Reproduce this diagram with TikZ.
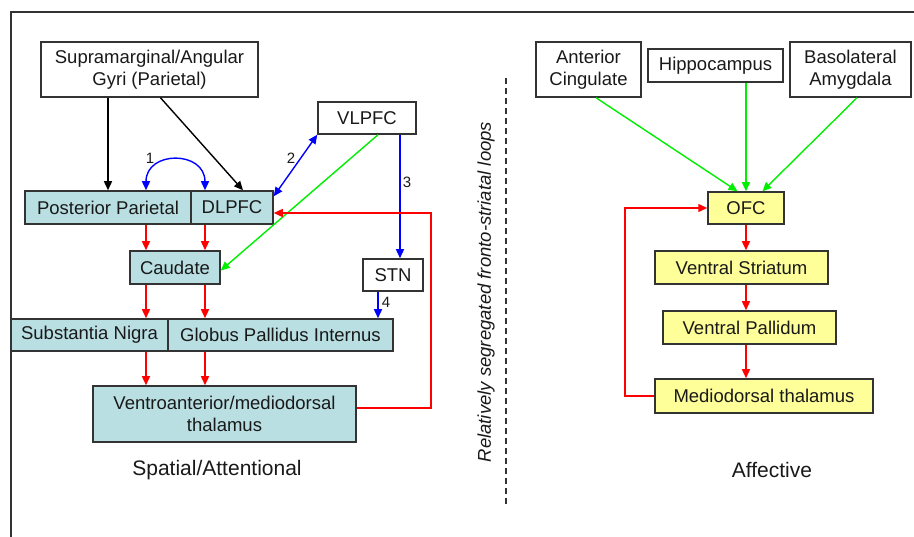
\documentclass[tikz,border=0pt]{standalone}
\usepackage{fontspec}
\setmainfont{Liberation Sans}
\usetikzlibrary{arrows.meta,calc}
\definecolor{teal1}{HTML}{B9DFE2}
\definecolor{yel1}{HTML}{FFFF99}
\definecolor{bord}{HTML}{333333}
\definecolor{redl}{HTML}{FF0000}
\definecolor{grnl}{HTML}{00EE00}
\definecolor{blul}{HTML}{0000FF}
\tikzset{
  box/.style={draw=bord, line width=1.5pt, inner sep=0pt, align=center,
    font=\fontsize{18.5}{22.5}\selectfont, text=black!90},
  tealbox/.style={box, fill=teal1},
  yelbox/.style={box, fill=yel1},
  whitebox/.style={box, fill=white},
  arr/.style={line width=1.4pt, -{Triangle[length=9pt,width=8pt]}},
  darr/.style={line width=1.4pt, {Triangle[length=9pt,width=8pt]}-{Triangle[length=9pt,width=8pt]}},
  num/.style={font=\fontsize{15}{17}\selectfont, text=black!90},
  caption/.style={font=\fontsize{21}{24}\selectfont, text=black!90},
}
\begin{document}
\begin{tikzpicture}[x=1pt,y=-1pt]
\useasboundingbox (0,0) rectangle (914,537);
% frame
\draw[bord, line width=1.8pt] (11,537) -- (11,12) -- (914,12);
% left nodes
\node[whitebox, minimum width=217pt, minimum height=55pt] (sup) at (149.5,69.5) {Supramarginal/Angular\\Gyri (Parietal)};
\node[whitebox, minimum width=98pt, minimum height=32pt] (vlpfc) at (367,118) {VLPFC};
\node[tealbox, minimum width=166pt, minimum height=33pt] (pp) at (108,207.5) {Posterior Parietal};
\node[tealbox, minimum width=82pt, minimum height=33pt] (dl) at (232,207.5) {DLPFC};
\node[tealbox, minimum width=90pt, minimum height=33pt] (cau) at (175,267.5) {Caudate};
\node[whitebox, minimum width=60pt, minimum height=32pt] (stn) at (393,275) {STN};
\node[tealbox, minimum width=157pt, minimum height=32pt] (sn) at (89.5,335) {Substantia Nigra};
\node[tealbox, minimum width=225pt, minimum height=32pt] (gpi) at (280.5,335) {Globus Pallidus Internus};
\node[tealbox, minimum width=263pt, minimum height=56pt] (va) at (224.5,414) {Ventroanterior/mediodorsal\\thalamus};
\node[caption] (spat) at (217,470) {Spatial/Attentional};
% right nodes
\node[whitebox, minimum width=105pt, minimum height=55pt] (ac) at (588.5,69.5) {Anterior\\Cingulate};
\node[whitebox, minimum width=135pt, minimum height=33pt] (hip) at (715.5,65.5) {Hippocampus};
\node[whitebox, minimum width=121pt, minimum height=55pt] (ba) at (850.5,69.5) {Basolateral\\Amygdala};
\node[yelbox, minimum width=76pt, minimum height=32pt] (ofc) at (746,208) {OFC};
\node[yelbox, minimum width=173pt, minimum height=33pt] (vs) at (741.5,267.5) {Ventral Striatum};
\node[yelbox, minimum width=173pt, minimum height=33pt] (vp) at (749.5,327.5) {Ventral Pallidum};
\node[yelbox, minimum width=218pt, minimum height=34pt] (mt) at (764,396) {Mediodorsal thalamus};
\node[caption] (aff) at (772,470) {Affective};
% divider
\coordinate (dtop) at (506,78);
\coordinate (dbot) at (506,507);
\draw[bord, line width=1.1pt, dash pattern=on 6pt off 4pt] (dtop) -- (dbot);
\node[rotate=90, font=\itshape\fontsize{18.5}{22}\selectfont, text=black!90] (seg) at (486,292) {Relatively segregated fronto-striatal loops};
% helper coordinates
\coordinate (xa) at (146,0);
\coordinate (xb) at (205,0);
\coordinate (x3) at (400,0);
\coordinate (x4) at (378,0);
\coordinate (loopL) at (431,0);
\coordinate (loopR) at (625,0);
% black arrows
\draw[arr, black] (sup.south -| pp.north) -- (pp.north);
\draw[arr, black] ($(sup.south)+(11,0)$) -- ($(dl.north)+(11,0)$);
% blue
\draw[darr, blul] (pp.north -| xa) .. controls ($(pp.north -| xa)+(0,-40)$) and ($(dl.north -| xb)+(0,-40)$) .. (dl.north -| xb);
\node[num] (n1) at (150,158) {1};
\draw[darr, blul] ($(dl.north east)+(0,6)$) -- (vlpfc.south west);
\node[num] (n2) at (291,158) {2};
\draw[arr, blul] (vlpfc.south -| x3) -- (stn.north -| x3);
\node[num] (n3) at (407,182) {3};
\draw[arr, blul] (stn.south -| x4) -- (gpi.north -| x4);
\node[num] (n4) at (386,302) {4};
% green left
\draw[arr, grnl] ($(vlpfc.south)+(11,0)$) -- ($(cau.east)+(0,3)$);
% red left
\draw[arr, redl] (pp.south -| xa) -- (cau.north -| xa);
\draw[arr, redl] (dl.south -| xb) -- (cau.north -| xb);
\draw[arr, redl] (cau.south -| xa) -- (sn.north -| xa);
\draw[arr, redl] (cau.south -| xb) -- (gpi.north -| xb);
\draw[arr, redl] (sn.south -| xa) -- (va.north -| xa);
\draw[arr, redl] (gpi.south -| xb) -- (va.north -| xb);
\coordinate (var) at ($(va.east)+(0,-6)$);
\coordinate (dlr) at ($(dl.east)+(0,5.5)$);
\draw[arr, redl] (var) -| (loopL |- dlr) -- (dlr);
% green right
\draw[arr, grnl] ($(ac.south)+(7.5,0)$) -- ($(ofc.north)+(-8.5,0)$);
\draw[arr, grnl] (hip.south -| ofc.north) -- (ofc.north);
\draw[arr, grnl] ($(ba.south)+(6.5,0)$) -- ($(ofc.north)+(16.5,0)$);
% red right
\draw[arr, redl] (ofc.south) -- (ofc.south |- vs.north);
\draw[arr, redl] (vs.south -| ofc.south) -- (vp.north -| ofc.south);
\draw[arr, redl] (vp.south -| ofc.south) -- (mt.north -| ofc.south);
\draw[arr, redl] (mt.west) -| (loopR |- ofc.west) -- (ofc.west);
\end{tikzpicture}
\end{document}
